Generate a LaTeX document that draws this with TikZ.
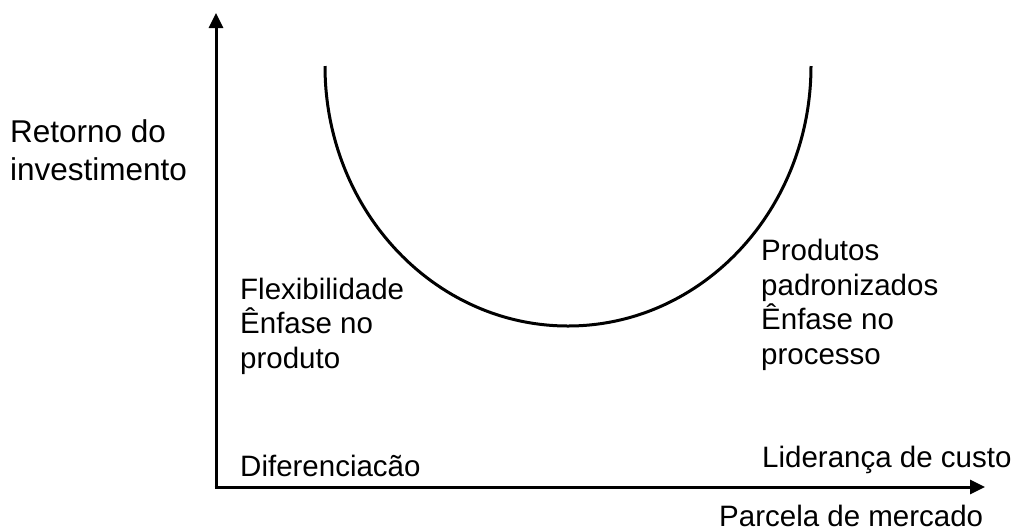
\documentclass[tikz,border=0pt]{standalone}
\usepackage{fontspec}
\setmainfont{Liberation Sans}
\usetikzlibrary{arrows.meta}
\begin{document}
\begin{tikzpicture}[x=1pt,y=-1pt,
  axis/.style={line width=3pt,-{Triangle[length=15pt,width=14pt]}},
  curve/.style={line width=3pt},
  lbl/.style={inner sep=0pt,anchor=base west,align=left,font=\fontsize{29.5}{34.5}\selectfont}]
\useasboundingbox (0,0) rectangle (1018,531);
\coordinate (O) at (216,487);
\coordinate (ytip) at (216,13);
\coordinate (xtip) at (985,487);
\draw[axis] (O) -- (ytip);
\draw[axis] ([xshift=-1.5pt]O) -- (xtip);
\coordinate (cl) at (325,66);
\draw[curve] (cl) arc[start angle=180,end angle=0,x radius=243,y radius=260] coordinate (cr);
\node[lbl,font=\fontsize{31.5}{38}\selectfont] (roi) at (10,180) {Retorno do\\investimento};
\node[lbl] (flex) at (240,368) {Flexibilidade\\Ênfase no\\produto};
\node[lbl] (prod) at (761,364) {Produtos\\padronizados\\Ênfase no\\processo};
\node[lbl] (dif) at (240,476) {Diferenciacão};
\node[lbl] (lid) at (762,467) {Liderança de custo};
\node[lbl] (par) at (719,526) {Parcela de mercado};
\end{tikzpicture}
\end{document}
